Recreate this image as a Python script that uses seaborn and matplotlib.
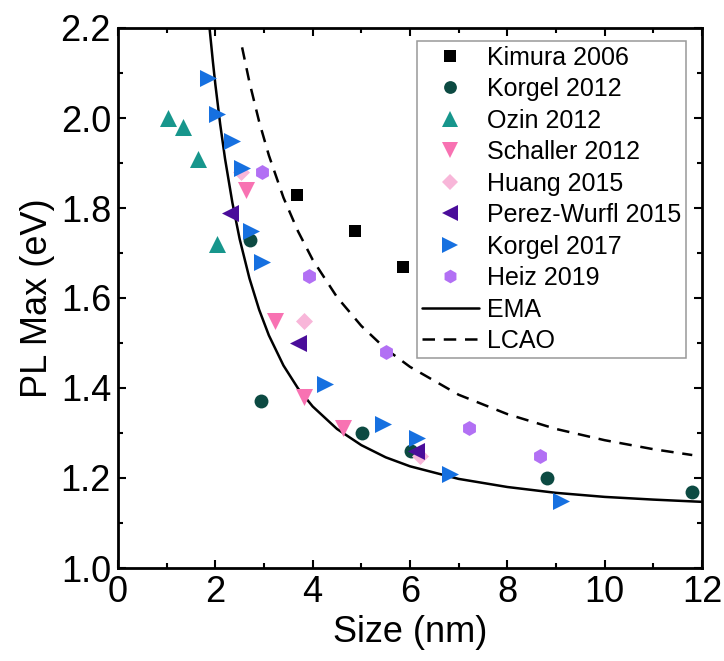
import numpy as np
import pandas as pd
import matplotlib
matplotlib.use("Agg")
import matplotlib.pyplot as plt
import seaborn as sns
from matplotlib.lines import Line2D
from matplotlib.ticker import MultipleLocator, FormatStrFormatter

# ---------------- data ----------------
kimura_x = [3.68, 4.87, 5.86]
kimura_y = [1.83, 1.75, 1.67]

korgel12_x = [2.72, 2.93, 5.01, 6.02, 8.82, 11.80]
korgel12_y = [1.73, 1.37, 1.30, 1.26, 1.20, 1.17]

ozin_x = [1.02, 1.33, 1.64, 2.04]
ozin_y = [2.00, 1.98, 1.91, 1.72]

schaller_x = [2.62, 3.23, 3.82, 4.62]
schaller_y = [1.84, 1.55, 1.38, 1.31]

huang_x = [2.53, 3.83, 6.21]
huang_y = [1.88, 1.55, 1.25]

perez_x = [2.31, 3.70, 6.12]
perez_y = [1.79, 1.50, 1.26]

korgel17_x = [1.85, 2.04, 2.34, 2.55, 2.74, 2.96, 4.25, 5.45, 6.15, 6.82, 9.11]
korgel17_y = [2.09, 2.01, 1.95, 1.89, 1.75, 1.68, 1.41, 1.32, 1.29, 1.21, 1.15]

heiz_x = [2.96, 3.92, 5.51, 7.21, 8.68]
heiz_y = [1.88, 1.65, 1.48, 1.31, 1.25]

ema_x = [1.87, 1.95, 2.0, 2.1, 2.2, 2.35, 2.5, 2.7, 2.9, 3.1, 3.4, 3.7, 4.0,
         4.5, 5.0, 5.5, 6.0, 7.0, 8.0, 9.0, 10.0, 11.0, 12.0]
ema_y = [2.212, 2.125, 2.075, 1.986, 1.909, 1.812, 1.731, 1.644, 1.574, 1.517,
         1.450, 1.399, 1.359, 1.309, 1.273, 1.246, 1.226, 1.198, 1.180, 1.167,
         1.158, 1.152, 1.147]

lcao_x = [2.55, 2.7, 2.9, 3.1, 3.4, 3.7, 4.0, 4.5, 5.0, 5.5, 6.0, 7.0, 8.0,
          9.0, 10.0, 11.0, 11.8]
lcao_y = [2.157, 2.080, 1.992, 1.917, 1.823, 1.748, 1.685, 1.602, 1.538, 1.487,
          1.447, 1.385, 1.342, 1.309, 1.284, 1.264, 1.251]

series = [
    ("Kimura 2006", kimura_x, kimura_y, "s", "#000000", 78),
    ("Korgel 2012", korgel12_x, korgel12_y, "o", "#0c4a42", 100),
    ("Ozin 2012", ozin_x, ozin_y, "^", "#17968c", 150),
    ("Schaller 2012", schaller_x, schaller_y, "v", "#f872b2", 150),
    ("Huang 2015", huang_x, huang_y, "D", "#f8b6d9", 75),
    ("Perez-Wurfl 2015", perez_x, perez_y, "<", "#4a0d9a", 150),
    ("Korgel 2017", korgel17_x, korgel17_y, ">", "#1670e0", 150),
    ("Heiz 2019", heiz_x, heiz_y, "h", "#b270f4", 115),
]
lcao_dash = (0, (5, 3.5))

# ---------------- figure ----------------
sns.set_theme(style="ticks")
plt.rcParams['font.family'] = ['Liberation Sans', 'DejaVu Sans']
plt.rcParams['text.color'] = 'black'
plt.rcParams['axes.labelcolor'] = 'black'
plt.rcParams['xtick.color'] = 'black'
plt.rcParams['ytick.color'] = 'black'

fig = plt.figure(figsize=(7.24, 6.61), dpi=100)
ax = fig.add_axes([118 / 724, 1 - 568 / 661, 584 / 724, 540 / 661])

ema_df = pd.DataFrame({"x": ema_x, "y": ema_y})
lcao_df = pd.DataFrame({"x": lcao_x, "y": lcao_y})

handles = []
for name, xs, ys, mk, col, s in series:
    df = pd.DataFrame({"x": xs, "y": ys})
    sns.scatterplot(data=df, x="x", y="y", marker=mk, color=col, s=s,
                    linewidth=0, ax=ax, zorder=3, legend=False)
    handles.append(Line2D([], [], linestyle="none", marker=mk, color=col,
                          markersize=np.sqrt(s) * 0.92, markeredgewidth=0,
                          label=name))

sns.lineplot(data=ema_df, x="x", y="y", color="black", lw=1.8, sort=False,
             estimator=None, ax=ax, zorder=2, legend=False)
sns.lineplot(data=lcao_df, x="x", y="y", color="black", lw=1.8, sort=False,
             estimator=None, ax=ax, zorder=2, legend=False,
             linestyle=lcao_dash)
handles.append(Line2D([], [], color="black", lw=1.8, label="EMA"))
handles.append(Line2D([], [], color="black", lw=1.8, linestyle=lcao_dash,
                      label="LCAO"))

ax.set_xlim(0, 12)
ax.set_ylim(1.0, 2.2)
ax.xaxis.set_major_locator(MultipleLocator(2))
ax.xaxis.set_minor_locator(MultipleLocator(1))
ax.yaxis.set_major_locator(MultipleLocator(0.2))
ax.yaxis.set_minor_locator(MultipleLocator(0.1))
ax.yaxis.set_major_formatter(FormatStrFormatter('%.1f'))

for sp in ax.spines.values():
    sp.set_linewidth(2.0)
    sp.set_color("black")

ax.tick_params(which="both", direction="in", top=True, right=True,
               width=1.5, colors="black", labelcolor="black")
ax.tick_params(which="major", length=6, labelsize=26, pad=5)
ax.tick_params(which="minor", length=3.5)

ax.set_xlabel("Size (nm)", fontsize=26, labelpad=4, color="black")
ax.set_ylabel("PL Max (eV)", fontsize=26, labelpad=4, color="black")

leg = ax.legend(handles=handles, loc="upper right",
                bbox_to_anchor=(0.9726, 0.9765), numpoints=1,
                borderaxespad=0, fontsize=18, frameon=True, fancybox=False,
                handlelength=2.3, handletextpad=0.3, labelspacing=0.3,
                borderpad=0.2, edgecolor="#808080")
leg.get_frame().set_linewidth(1.1)
for t in leg.get_texts():
    t.set_color("black")

fig.savefig("out.png", dpi=100)
